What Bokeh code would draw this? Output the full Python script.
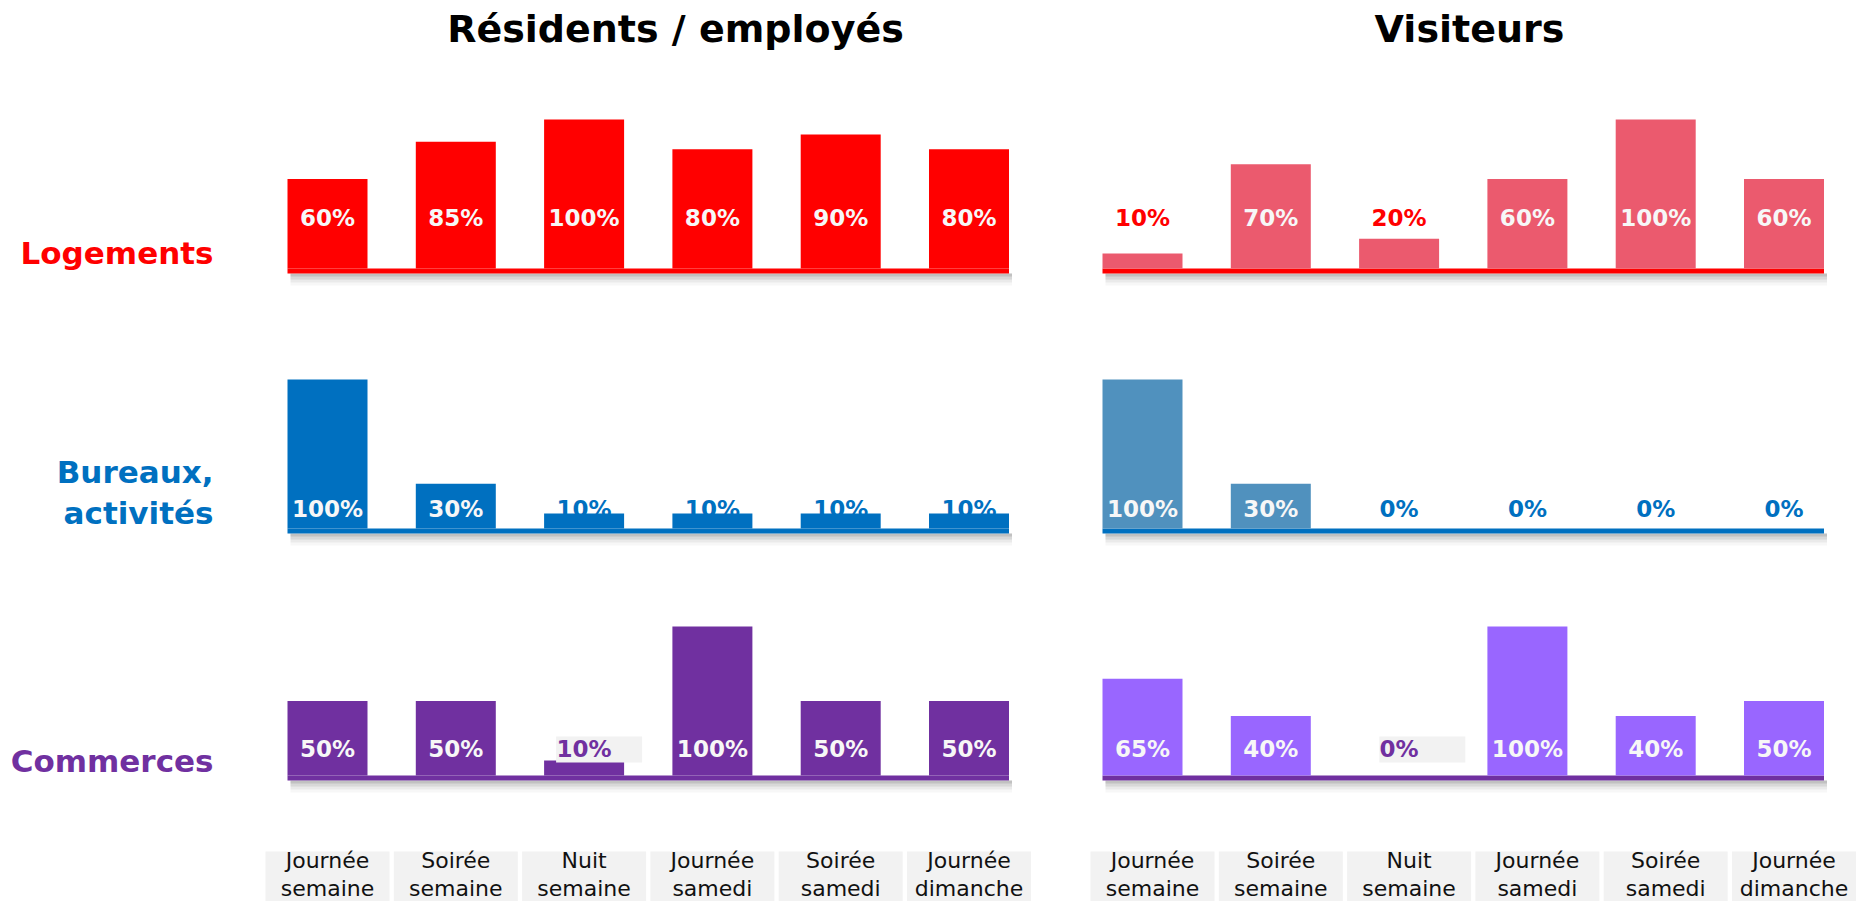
from bokeh.plotting import figure
from bokeh.models import Range1d, ColumnDataSource
from bokeh.core.properties import value
from bokeh.embed import file_html
from bokeh.resources import INLINE

# ---------------- data ----------------
periods = ["Journée\nsemaine", "Soirée\nsemaine", "Nuit\nsemaine",
           "Journée\nsamedi", "Soirée\nsamedi", "Journée\ndimanche"]
panels = ["Résidents / employés", "Visiteurs"]
uses = ["Logements", "Bureaux,\nactivités", "Commerces"]

logements_residents = [60, 85, 100, 80, 90, 80]
logements_visiteurs = [10, 70, 20, 60, 100, 60]
bureaux_residents = [100, 30, 10, 10, 10, 10]
bureaux_visiteurs = [100, 30, 0, 0, 0, 0]
commerces_residents = [50, 50, 10, 100, 50, 50]
commerces_visiteurs = [65, 40, 0, 100, 40, 50]

series = [[logements_residents, logements_visiteurs],
          [bureaux_residents, bureaux_visiteurs],
          [commerces_residents, commerces_visiteurs]]

# ---------------- style / layout ----------------
W, H = 1862, 901
SLOT = 128.3          # px per category slot
UNIT = 149.0          # px for 100 %
first_center_px = [327, 1142]
box_shift_px = [0, 10]
title_center_px = [675, 1469]
row_base_px = [268, 528, 775]
label_off_px = [42, 11, 18]           # visual label baseline above bar base
TEXT_FUDGE = 9                        # svg baseline correction (px)
label_box = [False, False, True]
row_label_y_px = [252, 492, 760]
main_colors = ["#FF0000", "#0070C0", "#7030A0"]
visit_colors = ["#EB5A6E", "#5091BE", "#9966FF"]
BAR_W = 80 / SLOT
FONT = value("DejaVu Sans")


def X(px):
    return px / SLOT


def Y(px):
    return (H - px) / UNIT


p = figure(width=W, height=H, x_range=Range1d(0, W / SLOT), y_range=Range1d(0, H / UNIT),
           output_backend="svg", toolbar_location=None, min_border=0,
           x_axis_location=None, y_axis_location=None)
p.grid.visible = False
p.outline_line_color = None
p.background_fill_color = "white"
p.border_fill_color = "white"

# titles
p.text(x=[X(c) for c in title_center_px], y=[Y(28)] * 2, text=panels,
       text_font=FONT, text_font_style="bold", text_font_size="38px",
       text_align="center", text_baseline="alphabetic", text_color="black")

# row labels
p.text(x=[X(213)] * 3, y=[Y(v) for v in row_label_y_px], text=uses,
       text_font=FONT, text_font_style="bold", text_font_size="31px",
       text_align="right", text_baseline="middle", text_color=main_colors,
       text_line_height=1.13)

for r in range(3):
    base = Y(row_base_px[r])
    for k in range(2):
        vals = series[r][k]
        xs = [X(first_center_px[k]) + i for i in range(len(vals))]
        col = main_colors[r] if k == 0 else visit_colors[r]
        # shadow under baseline
        for d, a in [(3, 0.10), (6, 0.08), (9, 0.05), (12, 0.03)]:
            p.quad(left=[xs[0] - BAR_W / 2 + X(3)], right=[xs[-1] + BAR_W / 2 + X(3)],
                   top=[Y(row_base_px[r] + 5)], bottom=[Y(row_base_px[r] + 5 + d)],
                   fill_color="black", fill_alpha=a, line_color=None)
        # baseline
        p.quad(left=[xs[0] - BAR_W / 2], right=[xs[-1] + BAR_W / 2],
               top=[base], bottom=[Y(row_base_px[r] + 5)],
               fill_color=main_colors[r], line_color=None)
        src = ColumnDataSource(dict(x=xs, top=[base + v / 100 for v in vals]))
        p.vbar(x="x", width=BAR_W, bottom=base, top="top", source=src,
               fill_color=col, line_color=None)
        # labels
        texts = [f"{v}%" for v in vals]
        inside = [v / 100 * UNIT > label_off_px[r] + 22 for v in vals]
        tcols = ["#F7F7F7" if ins else main_colors[r] for ins in inside]
        vis_base = Y(row_base_px[r] - label_off_px[r])
        if label_box[r]:
            bl, br = [], []
            for xx, t, ins in zip(xs, texts, inside):
                if not ins:
                    tw = (len(t) - 1) * 16.5 + 23
                    left = xx - X(tw / 2)
                    bl.append(left)
                    br.append(left + X(86))
            if bl:
                p.quad(left=bl, right=br, top=[vis_base + 21 / UNIT] * len(bl),
                       bottom=[vis_base - 5 / UNIT] * len(bl),
                       fill_color="#F2F2F2", line_color=None)
        p.text(x=xs, y=[vis_base + TEXT_FUDGE / UNIT] * len(xs), text=texts,
               text_color=tcols, text_font=FONT, text_font_style="bold",
               text_font_size="23px", text_align="center", text_baseline="alphabetic")

# category boxes
for k in range(2):
    xs = [X(first_center_px[k] + box_shift_px[k]) + i for i in range(len(periods))]
    p.quad(left=[x - X(62) for x in xs], right=[x + X(62) for x in xs],
           top=[Y(851)] * len(xs), bottom=[Y(910)] * len(xs),
           fill_color="#F2F2F2", line_color=None)
    p.text(x=xs, y=[Y(874)] * len(xs), text=periods, text_color="#111111",
           text_font=FONT, text_font_size="22px", text_align="center",
           text_baseline="middle", text_line_height=1.1)

open("out.html", "w").write(file_html(p, INLINE))
